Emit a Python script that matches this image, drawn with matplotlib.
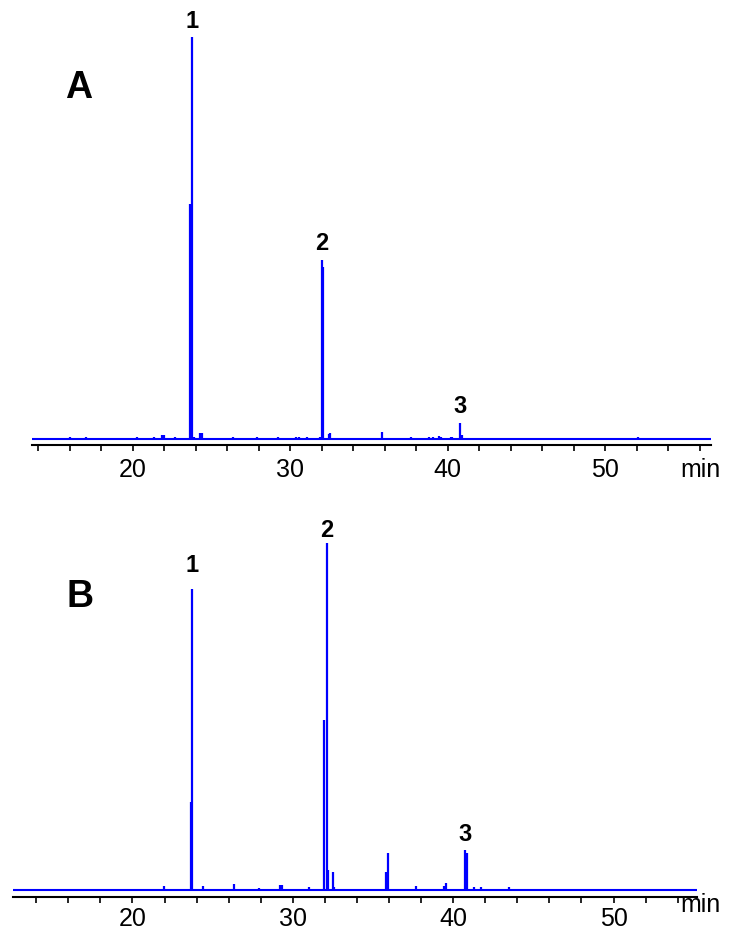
"""
Two GC chromatograms (A and B) stacked, peaks 1-3 labelled.
Saves out.png.
"""

import matplotlib.pyplot as plt
import matplotlib.ticker as ticker


# ------------------------------------------------------------------
# Data: retention time (min) and relative intensity
# ------------------------------------------------------------------
rt_a = [16.0, 17.03, 20.3, 21.37, 21.87, 22.0, 22.7, 23.65, 23.75, 23.9,
        24.29, 24.41, 26.35, 27.9, 29.24, 30.38, 30.57, 31.08, 31.9,
        32.01, 32.11, 32.48, 32.54, 35.84, 37.68, 38.83, 39.08, 39.46,
        39.59, 40.22, 40.29, 40.79, 40.9, 41.3, 52.1]
int_a = [0.5, 0.6, 0.5, 0.5, 1.0, 1.2, 0.5, 58.5, 100.0, 0.5,
         1.5, 1.5, 0.5, 0.5, 0.5, 0.5, 0.6, 0.5, 0.7,
         44.6, 42.9, 1.3, 1.7, 1.8, 0.5, 0.6, 0.6, 0.8,
         0.5, 0.6, 0.6, 4.2, 1.2, 0.4, 0.5]

rt_b = [21.98, 23.64, 23.7, 24.37, 26.33, 27.89, 29.2, 29.3, 31.04,
        31.97, 32.12, 32.2, 32.49, 32.58, 35.83, 35.93, 37.7, 39.45,
        39.58, 40.76, 40.87, 41.3, 41.76, 43.5]
int_b = [0.9, 25.3, 86.7, 0.9, 1.7, 0.4, 1.4, 1.4, 0.6,
         48.9, 100.0, 5.5, 5.2, 0.8, 5.1, 10.6, 0.9, 0.9,
         2.0, 11.4, 10.6, 0.6, 0.6, 0.6]

# labelled peaks: (name, rt, intensity)
labels_a = [("1", 23.75, 100.0), ("2", 32.01, 44.6), ("3", 40.79, 4.2)]
labels_b = [("1", 23.7, 86.7), ("2", 32.12, 100.0), ("3", 40.76, 11.4)]

BLUE = "#0000FF"
FONT = ["Liberation Sans", "DejaVu Sans"]


def draw_trace(ax, rt, inten, labels, label_offsets, xlim, ylim):
    ax.axhline(0, color=BLUE, linewidth=1.5, zorder=2)
    ax.vlines(rt, 0, inten, color=BLUE, linewidth=1.6, zorder=3)

    for (name, x, y), dy in zip(labels, label_offsets):
        ax.annotate(name, xy=(x, y), xytext=(0, dy), textcoords="offset points",
                    ha="center", va="bottom", fontsize=17, fontweight="bold",
                    family=FONT)

    ax.set_xlim(*xlim)
    ax.set_ylim(*ylim)

    for side in ("left", "right", "top"):
        ax.spines[side].set_visible(False)
    ax.spines["bottom"].set_linewidth(1.5)
    ax.set_yticks([])

    ax.xaxis.set_major_locator(ticker.MultipleLocator(10))
    ax.xaxis.set_minor_locator(ticker.MultipleLocator(2))
    ax.tick_params(axis="x", which="both", direction="out", length=4.5,
                   width=1.2, labelsize=18)
    for lab in ax.get_xticklabels():
        lab.set_family(FONT)


fig = plt.figure(figsize=(7.29, 9.40), dpi=100)

ax_a = fig.add_axes([0.0435, 0.5266, 0.9315, 0.4415])
draw_trace(ax_a, rt_a, int_a, labels_a, [3, 4, 3],
           (13.6, 56.7), (-1.37, 101.8))
ax_a.tick_params(axis="x", pad=5)
fig.text(700 / 729, 1 - 470 / 940, "min", fontsize=18, family=FONT,
         ha="center", va="center")

ax_b = fig.add_axes([0.0178, 0.0457, 0.9382, 0.3903])
draw_trace(ax_b, rt_b, int_b, labels_b, [9, 1, 3],
           (12.55, 55.2), (-2.16, 103.7))
ax_b.tick_params(axis="x", pad=3)
fig.text(700 / 729, 1 - 905 / 940, "min", fontsize=18, family=FONT,
         ha="center", va="center")

# panel letters
fig.text(79 / 729, 1 - 88 / 940, "A", fontsize=27, fontweight="bold",
         family=FONT, ha="center", va="center")
fig.text(80 / 729, 1 - 597 / 940, "B", fontsize=27, fontweight="bold",
         family=FONT, ha="center", va="center")

plt.savefig("out.png", dpi=100)
